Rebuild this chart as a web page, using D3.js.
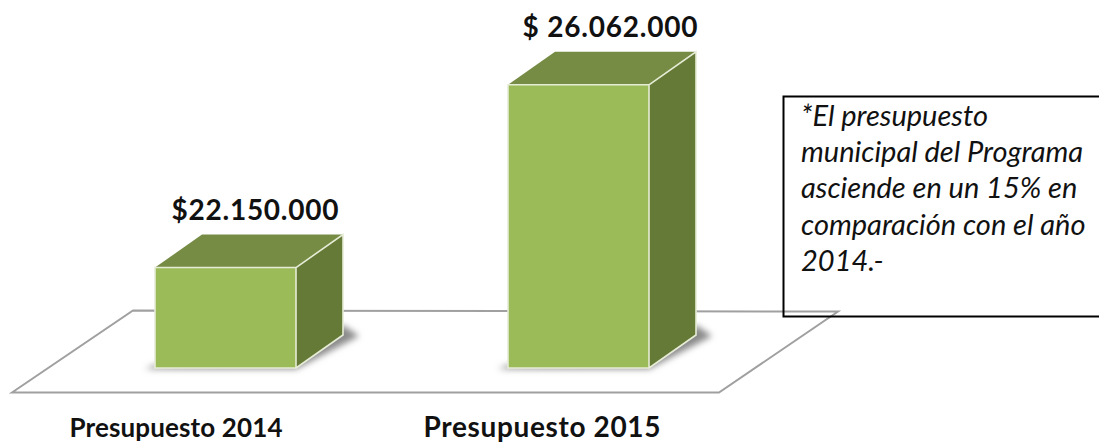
<!DOCTYPE html>
<html><head><meta charset="utf-8">
<script src="https://cdn.jsdelivr.net/npm/d3@7/dist/d3.min.js"></script>
<style>html,body{margin:0;padding:0;background:#fff;overflow:hidden}svg{display:block}</style>
</head><body><svg id="c" width="1099" height="443"></svg>
<script>
const categories = ["Presupuesto 2014", "Presupuesto 2015"];
const values = [22150000, 26062000];
const valueLabels = ["$22.150.000", "$ 26.062.000"];
const noteLines = ["*El presupuesto", "municipal del Programa", "asciende en un 15% en", "comparación con el año", "2014.-"];

const svg = d3.select("#c");
const y = d3.scaleLinear().domain([20000000, 27000000]).range([368, 41]);
const x = d3.scalePoint().domain(categories).range([155, 508]);
const dx = 47, dy = -33, bw = 141;
const valueCx = [255, 610], valueBase = [220, 37], valueLen = [167, 175];
const catCx = [176, 542], catLen = [213, 237], catSize = [26, 28];

const defs = svg.append("defs");
defs.append("filter").attr("id","blur").attr("x","-20%").attr("y","-20%").attr("width","140%").attr("height","140%")
  .append("feGaussianBlur").attr("stdDeviation",3);
defs.append("filter").attr("id","soft").append("feGaussianBlur").attr("stdDeviation",0.5);

svg.append("polygon").attr("points","12,392.5 133,310.5 838,311.5 719,392.5")
  .attr("fill","none").attr("stroke","#a0a0a0").attr("stroke-width",2).attr("filter","url(#soft)");

const g = svg.selectAll("g.bar").data(categories).join("g").attr("class","bar");
g.each(function(c,i){
  const s = d3.select(this), x0 = x(c), x1 = x0+bw, t = y(values[i]), b = y.range()[0];
  s.append("polygon").attr("points",[[x0-10,b+1],[x1,b+1],[x1+dx+16,b+dy+1],[x1+dx,b+dy-10],[x1,b-10],[x0,b-3]].join(" "))
    .attr("fill","#8a8a8a").attr("filter","url(#blur)");
  s.append("polygon").attr("points",[[x0,t],[x1,t],[x1+dx,t+dy],[x0+dx,t+dy]].join(" "))
    .attr("fill","#768c44");
  s.append("polygon").attr("points",[[x1,t],[x1+dx,t+dy],[x1+dx,b+dy],[x1,b]].join(" "))
    .attr("fill","#667a38");
  s.append("rect").attr("x",x0).attr("y",t).attr("width",bw).attr("height",b-t).attr("fill","#9bbb59");
  s.append("path").attr("d",`M${x0},${b}V${t}H${x1}V${b}Z M${x1},${t}L${x1+dx},${t+dy}V${b+dy}L${x1},${b}`)
    .attr("fill","none").attr("stroke","#e6ecd6").attr("stroke-width",1.6);
  s.append("text").attr("x",valueCx[i]).attr("y",valueBase[i])
    .attr("text-anchor","middle").attr("font-family","Lato").attr("font-weight",700)
    .attr("font-size",28).attr("textLength",valueLen[i]).attr("lengthAdjust","spacing")
    .attr("fill","#111").text(valueLabels[i]);
  s.append("text").attr("x",catCx[i]).attr("y",437)
    .attr("text-anchor","middle").attr("font-family","Lato").attr("font-weight",700)
    .attr("font-size",catSize[i]).attr("textLength",catLen[i]).attr("lengthAdjust","spacing")
    .attr("fill","#111").text(c);
});

svg.append("path").attr("d","M1099,96.5H783.5V316.5H1099").attr("fill","none").attr("stroke","#000").attr("stroke-width",2);
svg.append("g").selectAll("text").data(noteLines).join("text")
  .attr("x",801).attr("y",(d,i)=>126+i*36.2)
  .attr("font-family","Lato").attr("font-style","italic").attr("font-size",29).attr("fill","#111")
  .text(d=>d);
</script></body></html>
